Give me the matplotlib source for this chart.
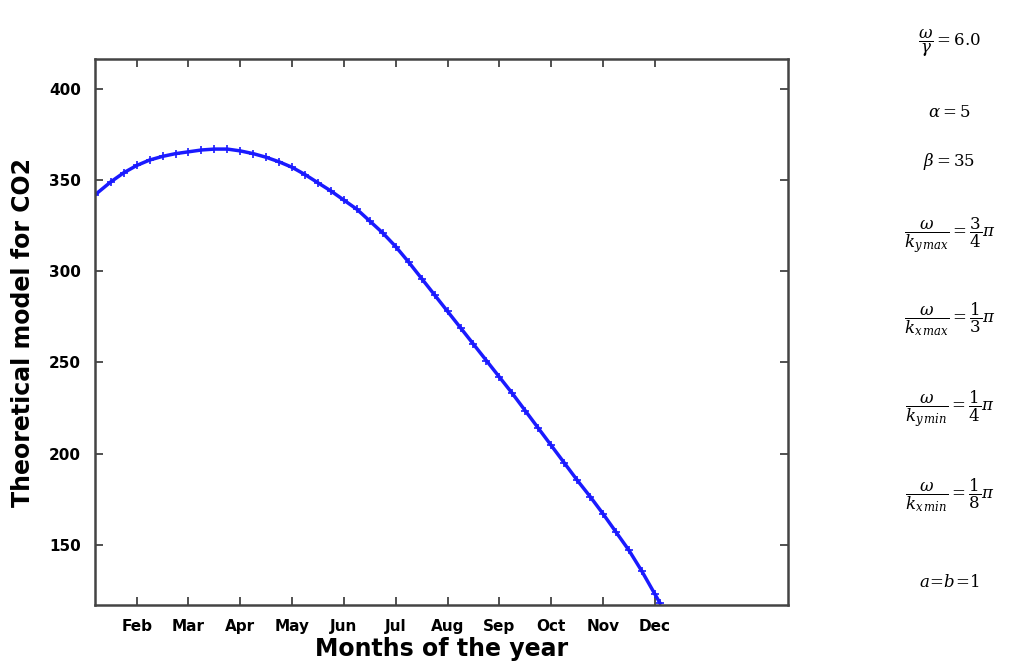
import matplotlib.pyplot as plt

# months (1 = Jan) and model values
months = [1.2, 1.5, 1.75, 2.0, 2.25, 2.5, 2.75, 3.0, 3.25, 3.5, 3.75, 4.0,
          4.25, 4.5, 4.75, 5.0, 5.25, 5.5, 5.75, 6.0, 6.25, 6.5, 6.75, 7.0,
          7.25, 7.5, 7.75, 8.0, 8.25, 8.5, 8.75, 9.0, 9.25, 9.5, 9.75, 10.0,
          10.25, 10.5, 10.75, 11.0, 11.25, 11.5, 11.75, 12.0, 12.1]
co2 = [342, 349, 354, 358, 361, 363, 364.5, 365.5, 366.5, 367, 367, 366,
       364.5, 362.5, 360, 357, 353, 348.5, 344, 339, 334, 327.5, 321, 313.5,
       305, 296, 287, 278, 269, 260, 251, 242, 233, 223.5, 214, 204.5,
       195, 185.5, 176.5, 167, 157, 147, 135.5, 123, 118]

tick_pos = [2, 3, 4, 5, 6, 7, 8, 9, 10, 11, 12]
tick_labels = ["Feb", "Mar", "Apr", "May", "Jun", "Jul", "Aug", "Sep", "Oct", "Nov", "Dec"]

params = [
    r"$\dfrac{\omega}{\gamma} = 6.0$",
    r"$\alpha = 5$",
    r"$\beta = 35$",
    r"$\dfrac{\omega}{k_{y\,max}} = \dfrac{3}{4}\pi$",
    r"$\dfrac{\omega}{k_{x\,max}} = \dfrac{1}{3}\pi$",
    r"$\dfrac{\omega}{k_{y\,min}} = \dfrac{1}{4}\pi$",
    r"$\dfrac{\omega}{k_{x\,min}} = \dfrac{1}{8}\pi$",
    r"$a\!=\!b\!=\!1$",
]
param_y = [0.935, 0.832, 0.757, 0.645, 0.52, 0.385, 0.255, 0.125]

plt.rcParams["mathtext.fontset"] = "dejavuserif"
fig = plt.figure(figsize=(10.32, 6.65), dpi=100)
ax = fig.add_axes([0.092, 0.0902, 0.6716, 0.8211])

ax.plot(months, co2, color="#1a1aff", lw=2.5, marker="+", ms=6, mew=1.2)

ax.set_xlim(1.195, 14.57)
ax.set_ylim(117, 416.4)
ax.set_xticks(tick_pos)
ax.set_xticklabels(tick_labels)
ax.set_yticks([150, 200, 250, 300, 350, 400])
ax.tick_params(direction="in", length=6, width=1.2, top=True, right=True,
               labelsize=11, pad=10, colors="#333333", labelcolor="black")
for lab in ax.get_xticklabels() + ax.get_yticklabels():
    lab.set_fontweight("bold")
for sp in ax.spines.values():
    sp.set_linewidth(1.8)
    sp.set_color("#444444")

ax.set_xlabel("Months of the year", fontsize=17, fontweight="bold", labelpad=2)
ax.set_ylabel("Theoretical model for CO2", fontsize=17, fontweight="bold", labelpad=10)

for txt, y in zip(params, param_y):
    fig.text(0.92, y, txt, ha="center", va="center", fontsize=12)

fig.savefig("out.png", dpi=100)
